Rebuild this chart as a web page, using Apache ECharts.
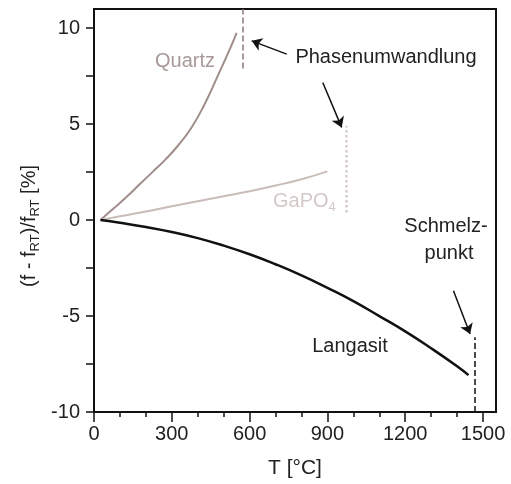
<!DOCTYPE html>
<html>
<head>
<meta charset="utf-8">
<script src="https://cdn.jsdelivr.net/npm/echarts@6/dist/echarts.min.js"></script>
<style>
  html, body { margin: 0; padding: 0; background: #fff; }
  #chart { width: 511px; height: 484px; }
</style>
</head>
<body>
<div id="chart"></div>
<script>
const quartzT = [25, 75, 125, 175, 225, 275, 325, 375, 425, 475, 525, 550];
const quartzF = [0, 0.6, 1.2, 1.85, 2.5, 3.15, 3.9, 4.8, 6.0, 7.45, 8.95, 9.76];
const gapoT = [25, 100, 200, 300, 400, 500, 600, 700, 800, 900];
const gapoF = [0, 0.2, 0.45, 0.72, 0.98, 1.24, 1.5, 1.8, 2.13, 2.54];
const lgsT = [25, 100, 200, 300, 400, 500, 600, 700, 800, 900, 1000, 1100, 1200, 1300, 1400, 1444];
const lgsF = [0, -0.14, -0.36, -0.62, -0.94, -1.33, -1.78, -2.3, -2.88, -3.53, -4.22, -5.0, -5.8, -6.68, -7.62, -8.08];

// Phasenumwandlung / Schmelzpunkt: [T, von, bis]
const quartzPhase = [573, 7.9, 11];
const gapoPhase = [971, 0.4, 4.9];
const meltPoint = [1469, -10, -6.1];

// Pfeile: [T_start, f_start, T_ende, f_ende]
const arrowQuartz = [743, 8.65, 608, 9.34];
const arrowGapo = [882, 7.17, 955, 4.83];
const arrowMelt = [1386, -3.68, 1450, -5.94];

const xMajor = [0, 300, 600, 900, 1200, 1500];
const xMinor = [100, 200, 400, 500, 700, 800, 1000, 1100, 1300, 1400];
const yMajor = [-10, -5, 0, 5, 10];
const yTicks = [-10, -7.5, -5, -2.5, 0, 2.5, 5, 7.5, 10];

const chart = echarts.init(document.getElementById('chart'));

function zip(a, b) {
    return a.map((v, i) => [v, b[i]]);
}

function vline(p, color, type, width) {
    return {
        silent: true,
        symbol: ['none', 'none'],
        label: {show: false},
        lineStyle: {color: color, type: type, width: width},
        data: [[{coord: [p[0], p[1]]}, {coord: [p[0], p[2]]}]]
    };
}

function arrow(a) {
    return [{coord: [a[0], a[1]]}, {coord: [a[2], a[3]]}];
}

const font = 'Liberation Sans, Arial, sans-serif';

const option = {
    backgroundColor: '#fff',
    animation: false,
    textStyle: {fontFamily: font},
    grid: {
        left: 94, right: 15, top: 9, bottom: 69,
        show: true, borderColor: '#111', borderWidth: 2
    },
    xAxis: [{
        type: 'value', min: 0, max: 1550,
        axisLine: {onZero: false, lineStyle: {color: '#111', width: 2}},
        axisTick: {customValues: xMajor, length: 10, lineStyle: {color: '#111', width: 1.5}},
        axisLabel: {
            customValues: xMajor, fontSize: 20, color: '#222', margin: 12, fontFamily: font,
            formatter: v => String(v)
        },
        splitLine: {show: false},
        name: 'T [°C]', nameLocation: 'middle', nameGap: 46,
        nameTextStyle: {fontSize: 21, color: '#222', fontFamily: font}
    }, {
        type: 'value', min: 0, max: 1550, position: 'bottom',
        axisLine: {show: false, onZero: false},
        axisTick: {customValues: xMinor, length: 5, lineStyle: {color: '#111', width: 1.5}},
        axisLabel: {show: false},
        splitLine: {show: false}
    }],
    yAxis: {
        type: 'value', min: -10, max: 11,
        axisLine: {show: true, onZero: false, lineStyle: {color: '#111', width: 2}},
        axisTick: {show: true, customValues: yTicks, length: 8, lineStyle: {color: '#111', width: 1.5}},
        axisLabel: {customValues: yMajor, fontSize: 20, color: '#222', margin: 14, fontFamily: font},
        splitLine: {show: false}
    },
    series: [{
        name: 'Quartz', type: 'line', smooth: 0.5, symbol: 'none',
        data: zip(quartzT, quartzF),
        lineStyle: {color: '#a08e8b', width: 2},
        markLine: vline(quartzPhase, '#8c7a77', 'dashed', 1.5)
    }, {
        name: 'GaPO4', type: 'line', smooth: 0.5, symbol: 'none',
        data: zip(gapoT, gapoF),
        lineStyle: {color: '#c9bcb9', width: 2},
        markLine: vline(gapoPhase, '#d6cdcb', 'dotted', 2.5)
    }, {
        name: 'Langasit', type: 'line', smooth: 0.5, symbol: 'none',
        data: zip(lgsT, lgsF),
        lineStyle: {color: '#111', width: 2.5},
        markLine: vline(meltPoint, '#111', 'dashed', 1.5)
    }, {
        name: 'arrows', type: 'line', data: [],
        markLine: {
            silent: true,
            symbol: ['none', 'arrow'],
            symbolSize: 10,
            label: {show: false},
            lineStyle: {color: '#111', width: 1.5, type: 'solid'},
            data: [arrow(arrowQuartz), arrow(arrowGapo), arrow(arrowMelt)]
        }
    }],
    graphic: [{
        type: 'text', x: 29, y: 226, rotation: Math.PI / 2,
        style: {
            text: '{a|(f - f}{s|RT}{a|)/f}{s|RT}{a| [%]}',
            align: 'center', verticalAlign: 'middle',
            rich: {
                a: {fontSize: 20, fill: '#222', fontFamily: font},
                s: {fontSize: 13, fill: '#222', fontFamily: font, padding: [12, 0, 0, 0]}
            }
        }
    }, {
        type: 'text', x: 185, y: 61,
        style: {text: 'Quartz', fontSize: 20, fill: '#a89a98', fontFamily: font, align: 'center', verticalAlign: 'middle'}
    }, {
        type: 'text', x: 386, y: 57,
        style: {text: 'Phasenumwandlung', fontSize: 20, fill: '#222', fontFamily: font, align: 'center', verticalAlign: 'middle'}
    }, {
        type: 'text', x: 273, y: 201,
        style: {
            text: '{a|GaPO}{s|4}', align: 'left', verticalAlign: 'middle',
            rich: {
                a: {fontSize: 20, fill: '#d3c9c8', fontFamily: font},
                s: {fontSize: 13, fill: '#d3c9c8', fontFamily: font, padding: [12, 0, 0, 0]}
            }
        }
    }, {
        type: 'text', x: 446, y: 226,
        style: {text: 'Schmelz-', fontSize: 20, fill: '#222', fontFamily: font, align: 'center', verticalAlign: 'middle'}
    }, {
        type: 'text', x: 449, y: 253,
        style: {text: 'punkt', fontSize: 20, fill: '#222', fontFamily: font, align: 'center', verticalAlign: 'middle'}
    }, {
        type: 'text', x: 350, y: 346,
        style: {text: 'Langasit', fontSize: 20, fill: '#222', fontFamily: font, align: 'center', verticalAlign: 'middle'}
    }]
};

chart.setOption(option);
</script>
</body>
</html>
